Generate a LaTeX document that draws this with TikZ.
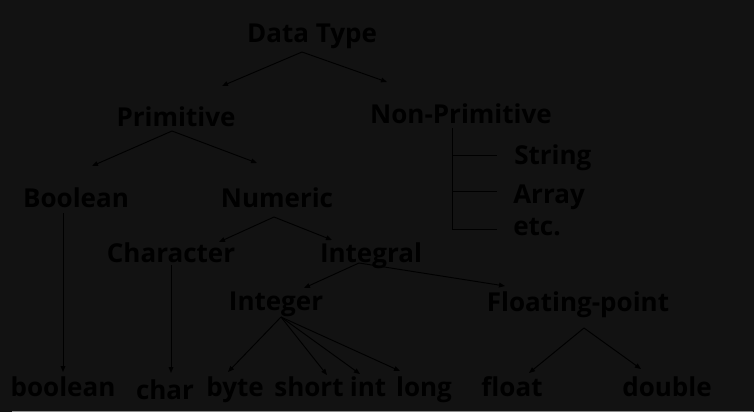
\documentclass[tikz,border=0pt]{standalone}
\usepackage{fontspec}
\setmainfont{Open Sans}
\usepackage{xcolor}
\usepackage{tikz}
\usetikzlibrary{calc,arrows.meta}

\definecolor{bgdark}{HTML}{121212}
\definecolor{stripgray}{HTML}{8A8A8A}

\begin{document}
\begin{tikzpicture}[
    x=0.75pt, y=-0.75pt,
    every node/.style={font=\fontsize{19.5}{21}\selectfont\bfseries, text=black, inner sep=0pt, anchor=base},
    link/.style={black, line width=0.7pt},
    arr/.style={link, -{Triangle[length=4.5pt, width=3.5pt]}},
]

% Background and bottom strip
\fill[bgdark] (0,0) rectangle (754,412);
\draw[stripgray, line width=0.9pt] (12,411.3) -- (753,411.3);

% Top levels
\node (dt) at (312,42) {Data Type};
\node (prim) at (176,126) {Primitive};
\node (nonprim) at (461,123) {Non-Primitive};

% Non-primitive members
\node[anchor=base west] (str) at (514,164) {String};
\node[anchor=base west] (arrt) at (513,203) {Array};
\node[anchor=base west] (etcn) at (513,235) {etc.};

% Primitive branch
\node (bool) at (76,207) {Boolean};
\node (num) at (277,207) {Numeric};
\node (chr) at (171,262) {Character};
\node (integral) at (371,262) {Integral};
\node (integer) at (276,310) {Integer};
\node (fp) at (578,311) {Floating-point};

% Leaves
\node (lbool) at (63,396) {boolean};
\node (lchar) at (165,399) {char};
\node (lbyte) at (235,396) {byte};
\node (lshort) at (309,396) {short};
\node (lint) at (368,396) {int};
\node (llong) at (424,396) {long};
\node (lfloat) at (512,396) {float};
\node (ldouble) at (667,396) {double};

% Data Type split
\draw[arr] ($(dt.base)+(-10,10)$) -- ($(prim.base)+(46,-40)$);
\draw[arr] ($(dt.base)+(-10,10)$) -- ($(nonprim.base)+(-74,-41)$);

% Primitive split
\draw[arr] ($(prim.base)+(-4,5)$) -- ($(bool.base)+(16,-41)$);
\draw[arr] ($(prim.base)+(-4,5)$) -- ($(num.base)+(-20,-44)$);

% Non-primitive bracket
\draw[link] ($(nonprim.base)+(-9,5)$) |- ($(etcn.base west)+(-16,-6)$);
\draw[link] ($(nonprim.base)+(-9,32)$) -- ($(str.base west)+(-17,-9)$);
\draw[link] ($(nonprim.base)+(-9,68)$) -- ($(arrt.base west)+(-16,-12)$);

% Boolean
\draw[arr] ($(bool.base)+(-13,6)$) -- ($(lbool.base)+(0,-24)$);

% Numeric split
\draw[arr] ($(num.base)+(-3,10)$) -- ($(chr.base)+(48,-20)$);
\draw[arr] ($(num.base)+(-3,10)$) -- ($(integral.base)+(-39,-22)$);

% Character
\draw[arr] ($(chr.base)+(0,3)$) -- ($(lchar.base)+(6,-26)$);

% Integral split
\draw[arr] ($(integral.base)+(-12,1)$) -- ($(integer.base)+(28,-22)$);
\draw[arr] ($(integral.base)+(-12,1)$) -- ($(fp.base)+(-73,-25)$);

% Integer types
\draw[arr] ($(integer.base)+(5,7)$) -- ($(lbyte.base)+(-7,-24)$);
\draw[arr] ($(integer.base)+(5,7)$) -- ($(lshort.base)+(18,-21)$);
\draw[arr] ($(integer.base)+(5,7)$) -- ($(lint.base)+(-8,-22)$);
\draw[arr] ($(integer.base)+(5,7)$) -- ($(llong.base)+(-24,-25)$);

% Floating-point types
\draw[arr] ($(fp.base)+(6,17)$) -- ($(lfloat.base)+(17,-23)$);
\draw[arr] ($(fp.base)+(6,17)$) -- ($(ldouble.base)+(-26,-27)$);

\end{tikzpicture}
\end{document}
